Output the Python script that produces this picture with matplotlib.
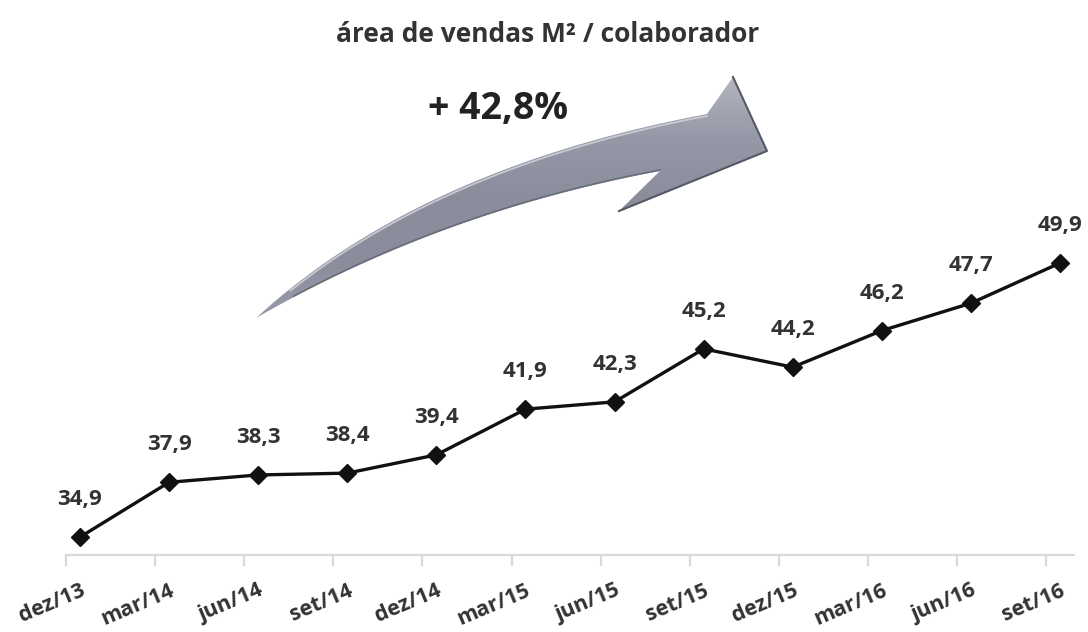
"""área de vendas M² / colaborador"""

import matplotlib.pyplot as plt
import numpy as np
from matplotlib.patches import PathPatch
from matplotlib.path import Path

plt.rcParams["font.family"] = ["Open Sans", "DejaVu Sans"]

# dados
periodos = ["dez/13", "mar/14", "jun/14", "set/14", "dez/14", "mar/15",
            "jun/15", "set/15", "dez/15", "mar/16", "jun/16", "set/16"]
valores = [34.9, 37.9, 38.3, 38.4, 39.4, 41.9, 42.3, 45.2, 44.2, 46.2, 47.7, 49.9]
titulo = "área de vendas M² / colaborador"
variacao = "+ 42,8%"

W, H = 1088, 632
texto_cor = "#333333"
eixo_cor = "#d9d9d9"

fig = plt.figure(figsize=(W / 100, H / 100), dpi=100)

# seta decorativa (em pixels da figura)
ov = fig.add_axes([0, 0, 1, 1], zorder=0)
ov.set_xlim(0, W)
ov.set_ylim(H, 0)
ov.axis("off")


def bezier(p0, p1, p2, n=80):
    t = np.linspace(0, 1, n)[:, None]
    return (1 - t) ** 2 * np.array(p0) + 2 * t * (1 - t) * np.array(p1) + t ** 2 * np.array(p2)


cauda = (256, 318)
borda_sup = bezier(cauda, (420, 168), (707, 114))
borda_inf = bezier(cauda, (440, 212), (660, 171))
cabeca = np.array([(733, 77), (767, 151), (619, 211)])
pts = np.vstack([borda_sup, cabeca, borda_inf[::-1]])
caminho = Path(np.vstack([pts, pts[:1]]), closed=True)
seta = PathPatch(caminho, facecolor="none", edgecolor="none")
ov.add_patch(seta)
grad = np.linspace(0, 1, 200)[:, None] * np.ones((1, 10))
cmap = plt.matplotlib.colors.LinearSegmentedColormap.from_list(
    "g", ["#b4b6c0", "#9598a6", "#8a8d9b", "#8a8d9b", "#9a9cab"])
img = ov.imshow(grad, cmap=cmap, extent=(250, 775, 325, 75), aspect="auto",
                interpolation="bicubic")
img.set_clip_path(seta)
# realces nas bordas
ov.plot(borda_sup[8:, 0], borda_sup[8:, 1] + 2, color="#c8cad2", lw=1.3)
ov.plot(borda_inf[8:, 0], borda_inf[8:, 1] - 1, color="#6a6e7c", lw=1.2)
ov.plot([733, 767, 619], [77, 151, 211], color="#555866", lw=1.5)

# gráfico principal
ax = fig.add_axes([66 / W, (H - 555) / H, (1074 - 66) / W, 555 / H], zorder=1)
ax.patch.set_alpha(0)
x = np.arange(len(valores))
ax.plot(x, valores, color="#111111", lw=2.4, marker="D", ms=9, clip_on=False, zorder=3)
ax.set_xlim(-0.157, 11.156)
ax.set_ylim(33.92, 64.29)

for s in ["left", "top", "right"]:
    ax.spines[s].set_visible(False)
ax.spines["bottom"].set_color(eixo_cor)
ax.spines["bottom"].set_linewidth(1.6)
ax.set_yticks([])

ax.set_xticks(x, periodos, rotation=23, ha="right", rotation_mode="anchor",
              fontsize=15.5, fontweight="bold", color=texto_cor)
ax.set_xticks(x - 0.157, minor=True)
ax.tick_params(axis="x", which="major", length=0, pad=18)
ax.tick_params(axis="x", which="minor", length=8, width=1.6, color=eixo_cor, direction="out")

for i, v in enumerate(valores):
    ax.annotate(f"{v:.1f}".replace(".", ","), (i, v), xytext=(0, 27), textcoords="offset points",
                ha="center", va="center", fontsize=16, fontweight="bold", color=texto_cor)

fig.text(548 / W, 1 - 34 / H, titulo, ha="center", va="center", fontsize=19,
         fontweight="bold", color=texto_cor)
fig.text(498 / W, 1 - 109 / H, variacao, ha="center", va="center", fontsize=27,
         fontweight="bold", color="#222222")

fig.savefig("out.png", dpi=100)
